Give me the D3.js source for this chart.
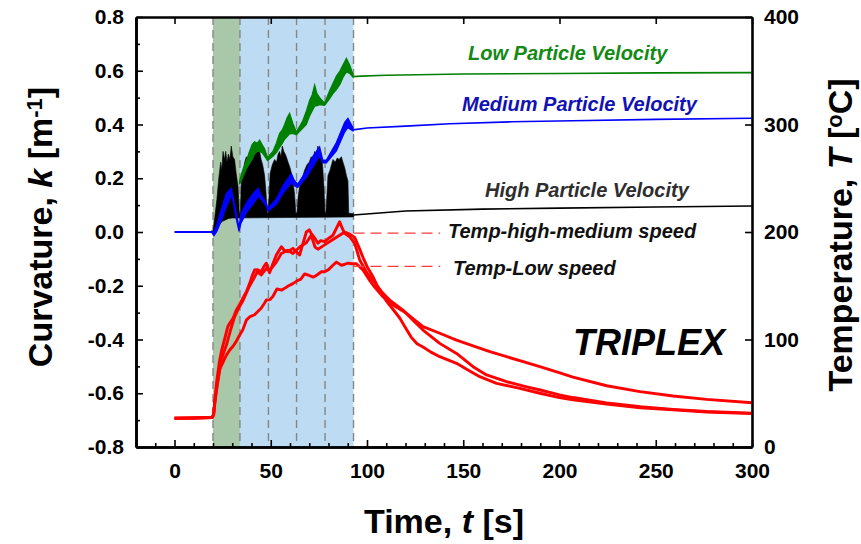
<!DOCTYPE html>
<html><head><meta charset="utf-8">
<script src="https://cdn.jsdelivr.net/npm/d3@7"></script>
<style>
body{margin:0;background:#fff}
svg{display:block}
text{font-family:Arial,"Liberation Sans",sans-serif;font-weight:bold}
</style>
</head><body>
<svg id="chart" width="861" height="544"></svg>
<script>
// ---------------- data ----------------
const timeTicks = [0, 50, 100, 150, 200, 250, 300];
const timeMinor = [-20,-10,10,20,30,40,60,70,80,90,110,120,130,140,160,170,180,190,210,220,230,240,260,270,280,290];
const kTicks = [-0.8, -0.6, -0.4, -0.2, 0.0, 0.2, 0.4, 0.6, 0.8];
const kMinor = [-0.7, -0.5, -0.3, -0.1, 0.1, 0.3, 0.5, 0.7];
const tempTicks = [0, 100, 200, 300, 400];

// spray phases: first pass (green) and later passes (blue)
const phaseGreen = [20, 34];
const phaseBlue = [34, 93];
const passBounds = [20, 34, 48.8, 63.4, 78.2, 93];

// Low particle velocity curvature: band [t, low, high] during spraying, then line [t, k]
const lowBand = [[33.8,0.178,0.19],[35.5,0.205,0.232],[37.3,0.235,0.265],[39,0.255,0.30],[40.3,0.27,0.325],[41.6,0.29,0.336],[43,0.30,0.33],[44.2,0.30,0.342],[45.5,0.295,0.325],[46.8,0.282,0.31],[48.3,0.266,0.278],[51.1,0.282,0.30],[52.9,0.295,0.33],[54.6,0.315,0.367],[56,0.33,0.38],[57.2,0.345,0.40],[58.5,0.355,0.425],[59.8,0.365,0.442],[61.5,0.367,0.404],[63.3,0.362,0.372],[66.7,0.387,0.415],[68.5,0.40,0.45],[70.2,0.432,0.49],[71.5,0.45,0.51],[72.8,0.468,0.547],[74,0.47,0.515],[75.4,0.474,0.50],[78,0.471,0.479],[80.5,0.495,0.525],[82.3,0.515,0.553],[84.1,0.53,0.58],[86,0.55,0.60],[87.5,0.575,0.621],[89.3,0.596,0.646],[91,0.59,0.621],[92.7,0.576,0.587]];
const lowTail = [[92.7,0.578],[97,0.58],[110,0.583],[150,0.588],[200,0.59],[250,0.592],[300,0.593]];

// Medium particle velocity curvature
const medPre = [[0,0],[19.5,0]];
const medBand = [[19.5,-0.004,0.004],[20.5,-0.014,0.0],[22,0.002,0.028],[24.5,0.045,0.088],[27,0.095,0.145],[29.5,0.135,0.163],[30.5,0.112,0.128],[32,0.052,0.075],[33.5,0.002,0.018],[34.5,0.032,0.066],[37.3,0.072,0.108],[40.7,0.103,0.142],[43.5,0.132,0.163],[45,0.122,0.138],[47.7,0.096,0.108],[48.5,0.077,0.088],[52.9,0.102,0.123],[56.3,0.143,0.172],[60.7,0.183,0.217],[62.3,0.172,0.192],[64,0.166,0.178],[68.5,0.202,0.228],[71.9,0.243,0.282],[75.4,0.283,0.317],[77,0.257,0.268],[78.9,0.257,0.268],[84.1,0.302,0.333],[88.4,0.372,0.408],[90.1,0.388,0.423],[92.7,0.376,0.388]];
const medTail = [[92.7,0.38],[100,0.387],[120,0.394],[143,0.403],[175,0.41],[207,0.414],[250,0.419],[300,0.423]];

// High particle velocity curvature: oscillation envelope (top / bottom) then line
const highTop = [[20,0],[21,0.06],[22,0.12],[23,0.2],[24,0.26],[24.6,0.23],[25.2,0.30],[26,0.27],[26.6,0.30],[27.3,0.26],[28,0.29],[28.8,0.27],[29.5,0.32],[30.3,0.28],[31.2,0.27],[32,0.22],[33,0.17],[33.6,0.08],[33.9,0.065],
 [34.2,0.07],[34.7,0.19],[35.5,0.22],[36.5,0.26],[37.3,0.28],[38.2,0.27],[39,0.30],[39.9,0.31],[40.6,0.28],[41.3,0.33],[42,0.31],[42.6,0.32],[43.3,0.30],[44.2,0.30],[45,0.27],[45.8,0.25],[46.8,0.21],[47.5,0.15],[48.2,0.07],
 [48.7,0.07],[49.2,0.15],[49.7,0.22],[50.8,0.25],[52,0.27],[53,0.26],[53.8,0.29],[54.6,0.30],[55.3,0.28],[56,0.32],[56.8,0.30],[57.5,0.29],[58.1,0.28],[59,0.26],[60,0.24],[60.7,0.22],[61.5,0.19],[62.4,0.14],[63,0.07],
 [63.6,0.07],[64.2,0.13],[65,0.17],[66.3,0.20],[67.6,0.23],[68.8,0.25],[70,0.26],[71,0.28],[72,0.27],[72.8,0.30],[73.7,0.29],[74.5,0.32],[75.3,0.30],[76.3,0.29],[77,0.24],[77.6,0.17],[78.2,0.07],
 [78.6,0.07],[79.2,0.14],[79.7,0.21],[80.8,0.23],[82.3,0.27],[83.5,0.26],[84.5,0.275],[85.5,0.27],[86.7,0.28],[87.5,0.26],[88.4,0.24],[89.3,0.21],[90.1,0.19],[90.5,0.07],[93,0.068]];
const highBottom = [[20,-0.005],[22,0.02],[25,0.04],[28,0.05],[30,0.052],[60,0.054],[93,0.056]];
const highTail = [[93,0.063],[120,0.078],[160,0.085],[200,0.089],[250,0.093],[300,0.097]];

// Temperatures [t, T]
const tempHighA = [[0,26.7],[10,27],[19.5,27.5],[20.3,30],[21,45],[22,62],[23.4,80],[24.5,90],[26,100],[27.7,112],[29,116],[30.5,120],[32,127],[34,133],[36,140],[37.5,145],[39,152],[40.5,160],[41.6,164.6],[43,165],[45,163],[46.5,168],[47.7,171],[49.4,162],[51,170],[52.9,178.6],[55.5,186.3],[57,183],[58.9,181.7],[61.5,184.8],[63,182],[65,178.6],[66.5,188],[68.5,200],[70,202],[71,198.8],[73,194],[74.5,189.5],[76,192],[78,191],[80,194],[82.3,197],[84,203],[85.8,209.6],[87,204],[88.4,198.8],[91,195.6],[93.6,189.5],[96.2,174],[100,162],[103.1,155],[108.3,143],[111.8,136.7],[118.7,127.4],[123.9,118],[129.1,108.8],[137.8,96.4],[146.5,87],[155.1,74.7],[162.1,67],[172.5,60.7],[182.9,56],[190,53],[200,48.5],[207,46],[224.5,41],[242,37.5],[259,35],[276.5,33],[300,31.5]];
const tempHighB = [[0,26.7],[10,27],[19.5,27.5],[20.3,30],[21,42],[22,55],[23.5,72],[25,85],[27,95],[29,108],[31,120],[33,128],[35.5,136],[38.5,148],[41.6,158],[43,163],[45,160],[47.7,166],[49.4,164],[52.9,172],[55.5,180],[58.9,183],[61.5,180],[65,186],[68.5,190],[71,197],[73,186],[74.5,184],[78,188],[82.3,193],[85.8,197],[88.4,200],[91,198],[93.6,195],[96,185],[98,176],[100,168],[103.1,158.4],[106,147],[110,136],[114,127],[117,120],[120,111],[123,102],[126,96],[129.1,93],[133,88.5],[137.8,84],[146.5,77.8],[152,72],[158.6,65.4],[167.3,59.2],[179.4,54.6],[189.8,50],[200,46],[207,44],[224.5,40],[242,36.5],[259,34.5],[276.5,32.5],[300,31]];
const tempLow = [[0,26.7],[10,27],[19.5,27.5],[20.3,30],[21.2,45],[22.3,60],[23.4,72],[25,78],[26.8,85],[28.6,90],[30.5,94],[32,98],[33.8,104],[35.5,109],[37.3,118],[39,121],[41.6,123],[43.3,126],[45,129],[46.8,134],[47.7,136.7],[49.5,137],[51.1,140],[53.2,147],[55.8,146],[57.5,148],[59.3,150],[61.5,152],[64.1,155],[65.5,156],[67.6,161],[69.4,160],[72,158],[74,160],[76.3,163],[78,163],[80,165],[82.3,169],[84.1,172],[86.7,169],[88.5,170],[90.1,171],[92,170.5],[94.5,170.5],[97.9,164.7],[101.4,155],[103.1,150.7],[108.3,139.8],[113.5,132],[120.5,124.4],[129.1,112],[137.8,105.8],[146.5,99.5],[155.1,94],[163.8,88.7],[172.5,84],[181.1,79.4],[189.8,74.7],[200.2,69],[207,65],[224.5,57],[241.8,51.5],[259,47.4],[276.5,44.3],[300,41.2]];

// annotation leaders [tStart, tEnd, T]
const leaderHigh = [93, 138, 199];
const leaderLow = [93, 138, 168];

// ---------------- chart ----------------
const svg = d3.select("#chart");
const L = 136, R = 752, T = 17, B = 447;
const x = d3.scaleLinear().domain([-20, 300]).range([L, R]);
const yk = d3.scaleLinear().domain([-0.8, 0.8]).range([B, T]);
const yT = d3.scaleLinear().domain([0, 400]).range([B, T]);

// shaded phases
svg.append("rect").attr("x", x(phaseGreen[0])).attr("y", T)
  .attr("width", x(phaseGreen[1]) - x(phaseGreen[0])).attr("height", B - T).attr("fill", "#a8c8a9");
svg.append("rect").attr("x", x(phaseBlue[0])).attr("y", T)
  .attr("width", x(phaseBlue[1]) - x(phaseBlue[0])).attr("height", B - T).attr("fill", "#bddcf4");
svg.selectAll("line.pass").data(passBounds).enter().append("line")
  .attr("x1", d => x(d)).attr("x2", d => x(d)).attr("y1", T).attr("y2", B)
  .attr("stroke", "#858585").attr("stroke-width", 1.4).attr("stroke-dasharray", "8,5");

const lineK = d3.line().x(d => x(d[0])).y(d => yk(d[1]));
const lineT = d3.line().x(d => x(d[0])).y(d => yT(d[1]));
const band = d3.area().x(d => x(d[0])).y0(d => yk(d[1])).y1(d => yk(d[2]));

// high velocity (black)
const poly = highTop.concat(highBottom.slice().reverse());
svg.append("path").attr("d", lineK(poly) + "Z").attr("fill", "#000").attr("stroke", "#000").attr("stroke-width", 0.6);
svg.append("path").attr("d", lineK(highTail)).attr("fill", "none").attr("stroke", "#000").attr("stroke-width", 1.6);

// low velocity (green)
svg.append("path").attr("d", band(lowBand)).attr("fill", "#008000").attr("stroke", "#008000").attr("stroke-width", 1.2);
svg.append("path").attr("d", lineK(lowTail)).attr("fill", "none").attr("stroke", "#008000").attr("stroke-width", 1.6);

// medium velocity (blue)
svg.append("path").attr("d", lineK(medPre)).attr("fill", "none").attr("stroke", "#0000ff").attr("stroke-width", 1.8);
svg.append("path").attr("d", band(medBand)).attr("fill", "#0000ff").attr("stroke", "#0000ff").attr("stroke-width", 1.2);
svg.append("path").attr("d", lineK(medTail)).attr("fill", "none").attr("stroke", "#0000ff").attr("stroke-width", 1.6);

// temperatures (red)
[tempHighA, tempHighB, tempLow].forEach(s => {
  svg.append("path").attr("d", lineT(s)).attr("fill", "none").attr("stroke", "#ff0000")
    .attr("stroke-width", 2.9).attr("stroke-linejoin", "round");
});

// leaders
[leaderHigh, leaderLow].forEach(l => {
  svg.append("line").attr("x1", x(l[0])).attr("x2", x(l[1])).attr("y1", yT(l[2])).attr("y2", yT(l[2]))
    .attr("stroke", "#ff3b3b").attr("stroke-width", 1.2).attr("stroke-dasharray", "11,6");
});

// axes
function styleAxis(g) {
  g.selectAll("path.domain").attr("stroke", "#000").attr("stroke-width", 2.6);
  g.selectAll(".tick line").attr("stroke", "#000").attr("stroke-width", 1.6);
  g.selectAll(".tick text").attr("fill", "#000").style("font-size", "21px").style("font-weight", "bold")
    .style("font-family", "Arial, 'Liberation Sans', sans-serif");
}
const fmtK = d => d.toFixed(1);
svg.append("g").attr("transform", `translate(0,${B})`)
  .call(d3.axisBottom(x).tickValues(timeTicks).tickSize(-7).tickSizeOuter(0).tickPadding(16))
  .call(styleAxis);
svg.append("g").attr("transform", `translate(0,${B})`)
  .call(d3.axisBottom(x).tickValues(timeMinor).tickSize(-4).tickSizeOuter(0).tickFormat(""))
  .call(styleAxis);
svg.append("g").attr("transform", `translate(0,${T})`)
  .call(d3.axisTop(x).tickValues(timeTicks).tickSize(-7).tickSizeOuter(0).tickFormat(""))
  .call(styleAxis);
svg.append("g").attr("transform", `translate(${L},0)`)
  .call(d3.axisLeft(yk).tickValues(kTicks).tickSize(-7).tickSizeOuter(0).tickPadding(12).tickFormat(fmtK))
  .call(styleAxis);
svg.append("g").attr("transform", `translate(${L},0)`)
  .call(d3.axisLeft(yk).tickValues(kMinor).tickSize(-4).tickSizeOuter(0).tickFormat(""))
  .call(styleAxis);
svg.append("g").attr("transform", `translate(${R},0)`)
  .call(d3.axisRight(yT).tickValues(tempTicks).tickSize(-7).tickSizeOuter(0).tickPadding(12))
  .call(styleAxis);

// axis titles
const xt = svg.append("text").attr("x", 444).attr("y", 533).attr("text-anchor", "middle").style("font-size", "34px");
xt.append("tspan").text("Time, ");
xt.append("tspan").attr("font-style", "italic").text("t");
xt.append("tspan").text(" [s]");

const lt = svg.append("text").attr("transform", "translate(52,227) rotate(-90)").attr("text-anchor", "middle").style("font-size", "34px");
lt.append("tspan").text("Curvature, ");
lt.append("tspan").attr("font-style", "italic").text("k");
lt.append("tspan").text(" [m");
lt.append("tspan").attr("dy", "-0.45em").style("font-size", "22px").text("-1");
lt.append("tspan").attr("dy", "0.3em").text("]");

const rt = svg.append("text").attr("transform", "translate(852,235) rotate(-90)").attr("text-anchor", "middle").style("font-size", "34px");
rt.append("tspan").text("Temperature, ");
rt.append("tspan").attr("font-style", "italic").text("T");
rt.append("tspan").text(" [");
rt.append("tspan").attr("dy", "-0.45em").style("font-size", "22px").text("o");
rt.append("tspan").attr("dy", "0.3em").text("C]");

// annotations
const notes = [
  {t: "Low Particle Velocity", x: 468, y: 60, c: "#138a13", s: 20},
  {t: "Medium Particle Velocity", x: 462, y: 111, c: "#1212b4", s: 20},
  {t: "High Particle Velocity", x: 485, y: 197, c: "#2e2e2e", s: 20},
  {t: "Temp-high-medium speed", x: 448, y: 238, c: "#111", s: 20},
  {t: "Temp-Low speed", x: 453, y: 275, c: "#111", s: 20},
  {t: "TRIPLEX", x: 573, y: 355, c: "#000", s: 36}
];
svg.selectAll("text.note").data(notes).enter().append("text")
  .attr("x", d => d.x).attr("y", d => d.y).attr("fill", d => d.c)
  .attr("font-style", "italic").style("font-size", d => d.s + "px").text(d => d.t);
</script>
</body></html>
